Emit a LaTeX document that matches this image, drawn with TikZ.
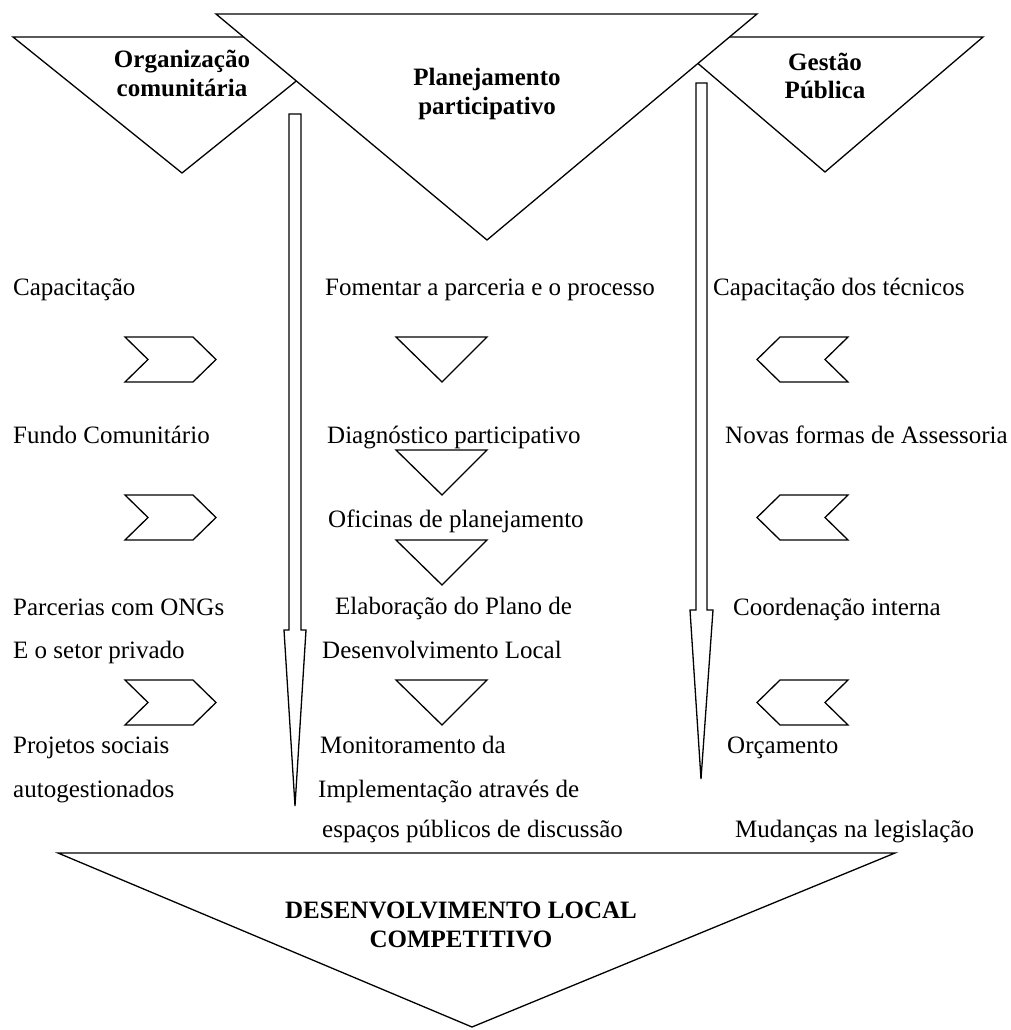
\documentclass[tikz,border=0pt]{standalone}
\usepackage{fontspec}
\setmainfont{Liberation Serif}
\begin{document}
\begin{tikzpicture}[x=1pt,y=-1pt,
  blockshape/.style={draw=black, line width=1.3pt, fill=white, line join=miter},
  txt/.style={inner sep=0pt, anchor=base west, font=\fontsize{25}{29}\selectfont},
  head/.style={inner sep=0pt, anchor=base, font=\fontsize{25}{29}\selectfont\bfseries},
]
\useasboundingbox[fill=white] (0,0) rectangle (1011,1030);

% three headline triangles; the central one overlaps the side ones
\draw[blockshape] (13,37) -- (351,37) -- (182,173) -- cycle;
\draw[blockshape] (667,37) -- (983,37) -- (825,172) -- cycle;
\draw[blockshape] (216,14) -- (757,14) -- (487,240) -- cycle;

\node[head] (org1)  at (182,68)  {Organização};
\node[head] (org2)  at (182,97)  {comunitária};
\node[head] (plan1) at (487,86)  {Planejamento};
\node[head] (plan2) at (487,114) {participativo};
\node[head] (ges1)  at (825,71)  {Gestão};
\node[head] (ges2)  at (825,99)  {Pública};

% long downward block arrows
\draw[blockshape] (289,114) -- (301,114) -- (301,630) -- (306,630) -- (295,806)
  -- (284,630) -- (289,630) -- cycle;
\draw[blockshape] (696,83) -- (707,83) -- (707,610) -- (713,610) -- (701,779)
  -- (690,610) -- (696,610) -- cycle;

% chevrons pointing right (left column)
\foreach \t in {337,495,680}
  \draw[blockshape] (125,\t) -- (193,\t) -- (216,\t+22.5) -- (193,\t+45)
    -- (125,\t+45) -- (148,\t+22.5) -- cycle;
% chevrons pointing left (right column)
\foreach \t in {337,495,680}
  \draw[blockshape] (848,\t) -- (780,\t) -- (757,\t+22.5) -- (780,\t+45)
    -- (848,\t+45) -- (825,\t+22.5) -- cycle;
% small downward triangles (middle column)
\foreach \t in {337,450,540,680}
  \draw[blockshape] (396,\t) -- (487,\t) -- (442,\t+45) -- cycle;

% left column
\node[txt] (l1) at (13,295) {Capacitação};
\node[txt] (l2) at (13,443) {Fundo Comunitário};
\node[txt] (l3) at (13,615) {Parcerias com ONGs};
\node[txt] (l4) at (13,658) {E o setor privado};
\node[txt] (l5) at (13,753) {Projetos sociais};
\node[txt] (l6) at (13,797) {autogestionados};

% middle column
\node[txt] (m1) at (325,295) {Fomentar a parceria e o processo};
\node[txt] (m2) at (327,443) {Diagnóstico participativo};
\node[txt] (m3) at (328,527) {Oficinas de planejamento};
\node[txt] (m4) at (335,614) {Elaboração do Plano de};
\node[txt] (m5) at (322,658) {Desenvolvimento Local};
\node[txt] (m6) at (320,753) {Monitoramento da};
\node[txt] (m7) at (318,797) {Implementação através de};
\node[txt] (m8) at (322,837) {espaços públicos de discussão};

% right column
\node[txt] (r1) at (713,295) {Capacitação dos técnicos};
\node[txt] (r2) at (725,443) {Novas formas de Assessoria};
\node[txt] (r3) at (733,615) {Coordenação interna};
\node[txt] (r4) at (727,753) {Orçamento};
\node[txt] (r5) at (735,837) {Mudanças na legislação};

% result triangle
\draw[blockshape] (58,853) -- (895,853) -- (472,1027) -- cycle;
\node[head] (res1) at (461,918) {DESENVOLVIMENTO LOCAL};
\node[head] (res2) at (461,947) {COMPETITIVO};
\end{tikzpicture}
\end{document}
